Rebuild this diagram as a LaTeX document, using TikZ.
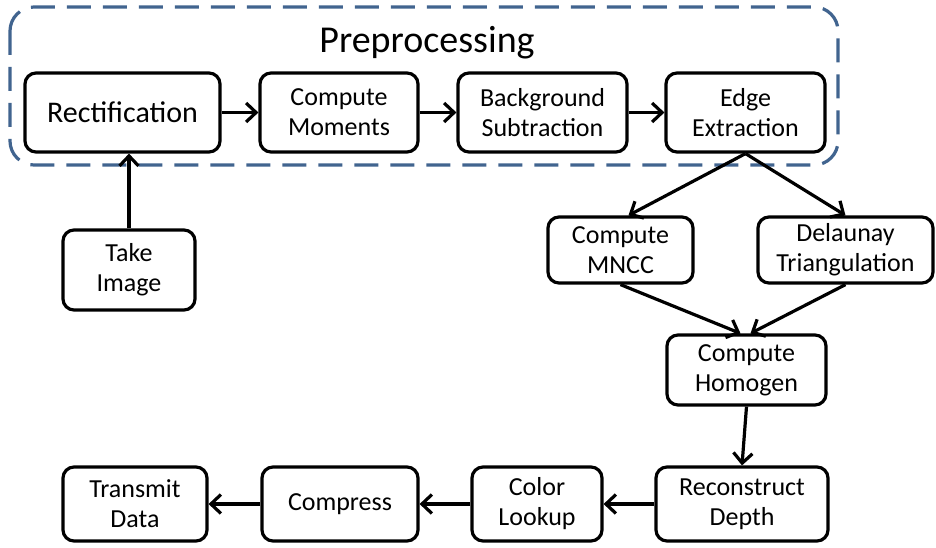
\documentclass[tikz,border=0pt]{standalone}
\usepackage{fontspec}
\setmainfont{Carlito}
\usepackage{tikz}
\usetikzlibrary{arrows.meta}
\definecolor{prepblue}{HTML}{41648F}

\begin{document}
\begin{tikzpicture}[x=1pt, y=-1pt, line width=3.2pt,
  every node/.style={font=\fontsize{26}{30}\selectfont},
  stage/.style={draw, rounded corners=11pt, align=center, inner sep=0pt, minimum height=#1},
  stage/.default=79pt,
  flow/.style={-{Straight Barb[length=10pt,width=19pt]}},
  prepbox/.style={prepblue, line width=3.2pt, rounded corners=24pt, dash pattern=on 24pt off 12pt}]

\useasboundingbox (0,0) rectangle (936,548);

% rows
\def\ytop{112.5}\def\ybot{504}

% preprocessing group
\draw[prepbox] (10,7) rectangle (838,165);
\node[font=\fontsize{38}{44}\selectfont] (prep) at (427,43) {Preprocessing};

% top row
\node[stage, minimum width=195pt, font=\fontsize{30}{34}\selectfont] (rect) at (122.5,\ytop) {Rectification};
\node[stage, minimum width=158pt] (moments) at (339,\ytop) {Compute\\Moments};
\node[stage, minimum width=169pt] (backsub) at (542.5,\ytop) {Background\\Subtraction};
\node[stage, minimum width=159pt] (edge) at (745.5,\ytop) {Edge\\Extraction};

\node[stage=80pt, minimum width=132pt] (take) at (129,270) {Take\\Image};

% middle
\node[stage=66pt, minimum width=145pt] (mncc) at (620.5,250) {Compute\\MNCC};
\node[stage=66pt, minimum width=175pt] (delaunay) at (845.5,250) {Delaunay\\Triangulation};
\node[stage=70pt, minimum width=159pt] (homogen) at (746.5,370) {Compute\\Homogen};

% bottom row
\node[stage=74pt, minimum width=172pt] (recon) at (742,\ybot) {Reconstruct\\Depth};
\node[stage=74pt, minimum width=130pt] (lookup) at (537,\ybot) {Color\\Lookup};
\node[stage=74pt, minimum width=156pt] (compress) at (340,\ybot) {Compress};
\node[stage=74pt, minimum width=144pt] (transmit) at (135,\ybot) {Transmit\\Data};

% connectors
\foreach \a/\b in {rect/moments, moments/backsub, backsub/edge,
                   recon/lookup, lookup/compress, compress/transmit}
  \draw[flow] (\a) -- (\b);
\draw[flow] (take.north) -- (take.north |- rect.south);
\draw[flow] (edge.south) -- ([xshift=8pt]mncc.north);
\draw[flow] (edge.south) -- (delaunay.north);
\draw[flow] (mncc.south) -- ([xshift=-6pt]homogen.north);
\draw[flow] (delaunay.south) -- ([xshift=4pt]homogen.north);
\draw[flow] (homogen.south) -- (recon.north);

\end{tikzpicture}
\end{document}
